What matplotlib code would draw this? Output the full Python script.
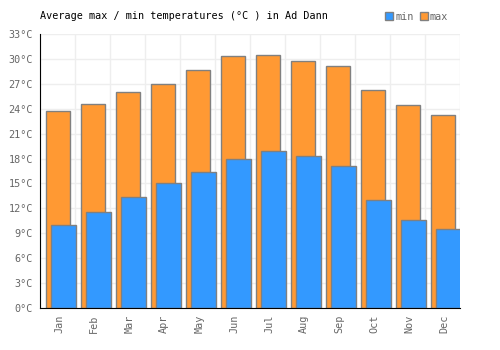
import numpy as np
import matplotlib.pyplot as plt
from matplotlib.patches import Patch

months = ['Jan', 'Feb', 'Mar', 'Apr', 'May', 'Jun', 'Jul', 'Aug', 'Sep', 'Oct', 'Nov', 'Dec']
t_max = [23.7, 24.6, 26.0, 27.0, 28.6, 30.4, 30.5, 29.8, 29.1, 26.3, 24.4, 23.3]
t_min = [10.0, 11.6, 13.4, 15.0, 16.4, 18.0, 18.9, 18.3, 17.1, 13.0, 10.6, 9.5]

plt.rcParams['font.family'] = ['DejaVu Sans Mono']
fs = 7.3

fig = plt.figure(figsize=(5, 3.5), dpi=100)
ax = fig.add_axes([0.08, 0.12, 0.84, 0.783])

x = np.arange(len(months))
edge = '#808080'
ax.bar(x + 0.01, t_max, width=0.67, color='#ff9933', edgecolor=edge, linewidth=1, zorder=2)
ax.bar(x + 0.17, t_min, width=0.69, color='#3399ff', edgecolor=edge, linewidth=1, zorder=3)

ax.set_xlim(-0.5, 11.5)
ax.set_ylim(0, 33)
yt = np.arange(0, 34, 3)
ax.set_yticks(yt)
ax.set_yticklabels(['%d°C' % v for v in yt], color='#666666', fontsize=fs)
ax.set_xticks(x + 0.05)
ax.set_xticklabels(months, rotation=90, color='#666666', fontsize=fs)
ax.tick_params(length=0, pad=5)

# grid
for k in range(13):
    ax.axvline(k - 0.5, color='#eeeeee', lw=1, zorder=0)
for v in yt:
    ax.axhline(v, color='#eeeeee', lw=1, zorder=0)

for s in ['top', 'right']:
    ax.spines[s].set_visible(False)
ax.spines['left'].set_color('black')
ax.spines['bottom'].set_color('black')
ax.spines['left'].set_zorder(5)
ax.spines['bottom'].set_zorder(5)

ax.set_title('Average max / min temperatures (°C ) in Ad Dann', loc='left', fontsize=fs, pad=11)

handles = [Patch(facecolor='#3399ff', edgecolor=edge), Patch(facecolor='#ff9933', edgecolor=edge)]
leg = fig.legend(handles, ['min', 'max'], loc='center right', bbox_to_anchor=(0.915, 0.952),
                 ncol=2, frameon=False, fontsize=fs, handlelength=0.8, handleheight=0.8,
                 handletextpad=0.2, columnspacing=0.6)
for t in leg.get_texts():
    t.set_color('#666666')

fig.savefig('out.png', dpi=100)
